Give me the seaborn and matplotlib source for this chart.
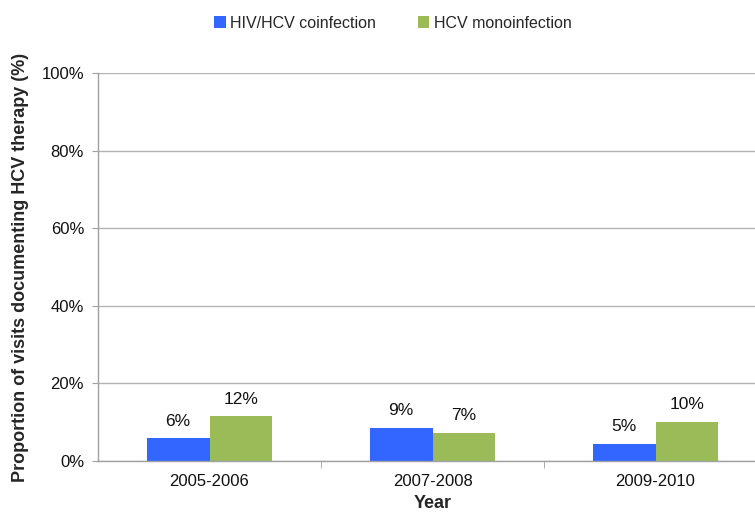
import matplotlib
matplotlib.use("Agg")
import matplotlib.pyplot as plt
import seaborn as sns
import pandas as pd
from matplotlib.patches import Patch

years = ["2005-2006", "2007-2008", "2009-2010"]
coinfection = [5.8, 8.6, 4.5]
monoinfection = [11.5, 7.3, 10.0]
coinfection_labels = ["6%", "9%", "5%"]
monoinfection_labels = ["12%", "7%", "10%"]
series_names = ["HIV/HCV coinfection", "HCV monoinfection"]
colors = ["#3366FF", "#9BBB59"]
y_ticks = [0, 20, 40, 60, 80, 100]

df = pd.DataFrame({
    "Year": years * 2,
    "Value": coinfection + monoinfection,
    "Group": [series_names[0]] * 3 + [series_names[1]] * 3,
})

sns.set_style("white")
plt.rcParams["font.family"] = ["Liberation Sans", "DejaVu Sans"]

fig = plt.figure(figsize=(7.55, 5.14), dpi=100)
W, H = 755, 514
left, right, top, bottom = 98, 767, 73, 461
ax = fig.add_axes([left / W, 1 - bottom / H, (right - left) / W, (bottom - top) / H])

sns.barplot(data=df, x="Year", y="Value", hue="Group", palette=colors,
            width=0.565, saturation=1, ax=ax, legend=False, errorbar=None,
            edgecolor="none", linewidth=0)

for container, labs in zip(ax.containers, [coinfection_labels, monoinfection_labels]):
    ax.bar_label(container, labels=labs, padding=7, fontsize=12.5, color="#111111")

ax.set_ylim(0, 100)
ax.set_xlim(-0.5, 2.5)
ax.set_yticks(y_ticks)
ax.set_yticklabels([f"{t}%" for t in y_ticks])
ax.yaxis.grid(True, color="#B3B3B3", linewidth=1.0)
ax.set_axisbelow(True)

for s in ["top", "right"]:
    ax.spines[s].set_visible(False)
for s in ["left", "bottom"]:
    ax.spines[s].set_color("#A0A0A0")
    ax.spines[s].set_linewidth(1.0)

ax.tick_params(axis="y", which="major", length=4, color="#A0A0A0", direction="out",
               labelsize=12, labelcolor="#111111", pad=6, left=True)
ax.tick_params(axis="x", which="major", length=0, labelsize=12,
               labelcolor="#111111", pad=9)
ax.set_xticks([0.5, 1.5], minor=True)
ax.tick_params(axis="x", which="minor", length=5, color="#A0A0A0",
               direction="out", bottom=True)

ax.set_ylabel("Proportion of visits documenting HCV therapy (%)",
              fontsize=13, fontweight="bold", labelpad=9)
ax.set_xlabel("Year", fontsize=13, fontweight="bold", labelpad=5)

handles = [Patch(facecolor=c, edgecolor="none") for c in colors]
fig.legend(handles, series_names, loc="center", ncol=2, frameon=False,
           bbox_to_anchor=(393 / W, 1 - 23 / H), fontsize=11.5,
           handlelength=0.7, handleheight=0.7, handletextpad=0.3,
           columnspacing=2.6)

fig.savefig("out.png", dpi=100)
